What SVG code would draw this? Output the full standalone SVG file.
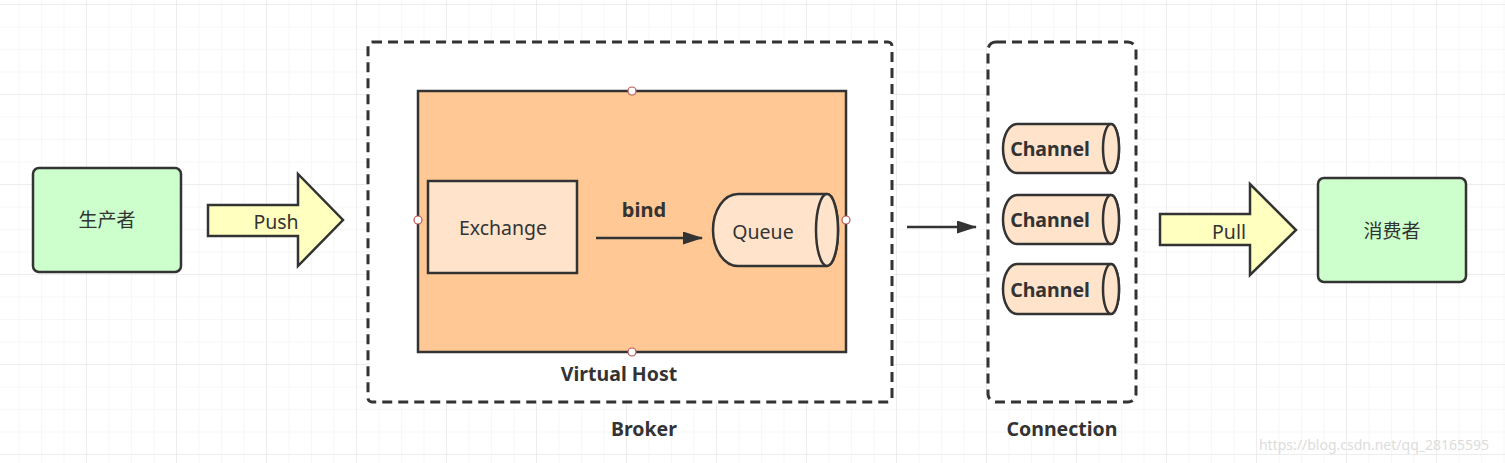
<svg xmlns="http://www.w3.org/2000/svg" width="1505" height="463" viewBox="0 0 1505 463">
<defs>
<pattern id="minor" x="-4" y="4" width="22.5" height="22.5" patternUnits="userSpaceOnUse">
<path d="M0,0 H22.5 M0,0 V22.5" fill="none" stroke="#efefef" stroke-width="1"/>
</pattern>
<pattern id="major" x="-4" y="4" width="90" height="90" patternUnits="userSpaceOnUse">
<path d="M0,0 H90 M0,0 V90" fill="none" stroke="#e4e4e4" stroke-width="1"/>
</pattern>
<marker id="arr" viewBox="0 0 20 13" refX="19" refY="6.5" markerWidth="20" markerHeight="13" orient="auto" markerUnits="userSpaceOnUse">
<path d="M0,0 L20,6.5 L0,13 z" fill="#333"/>
</marker>
</defs>
<style>
.t{font-family:"Noto Sans","Noto Sans CJK SC",sans-serif;fill:#333;text-anchor:middle;dominant-baseline:central}
.b{font-weight:bold}
.sh{stroke:#333;stroke-width:2.5}
.dash{fill:#fff;stroke:#333;stroke-width:3;stroke-dasharray:10 6}
.pt{fill:#fff;stroke:#b85450;stroke-width:1.2}
.big{fill:#ffffc0}
.green{fill:#ccffcc}
.light{fill:#ffe4cb}
</style>
<rect width="1505" height="463" fill="#fff"/>
<rect width="1505" height="463" fill="url(#minor)"/>
<rect width="1505" height="463" fill="url(#major)"/>

<g id="producer">
<rect x="33" y="168" width="148" height="104" rx="6" class="green sh"/>
<text x="107" y="220" class="t" font-size="19">生产者</text>
</g>

<g id="push">
<path d="M208,205 H298 V174 L343,220 L298,266 V236 H208 Z" class="big sh" stroke-linejoin="miter"/>
<text x="276" y="221" class="t" font-size="19.5">Push</text>
</g>

<g id="broker">
<rect x="368" y="42" width="524" height="360" rx="4" class="dash"/>
<text x="644" y="428" class="t b" font-size="19.5">Broker</text>
</g>

<g id="virtualhost">
<rect x="418" y="91" width="428" height="261" fill="#ffc895" class="sh"/>
<text x="619" y="373" class="t b" font-size="19.5">Virtual Host</text>
<circle cx="632" cy="91" r="4" class="pt"/>
<circle cx="418" cy="220" r="4" class="pt"/>
<circle cx="846" cy="220" r="4" class="pt"/>
<circle cx="632" cy="352" r="4" class="pt"/>
</g>

<g id="exchange">
<rect x="428" y="181" width="149" height="92" class="light sh"/>
<text x="503" y="227" class="t" font-size="19.5">Exchange</text>
</g>

<g id="queue">
<path d="M738,194 H827 A11,36 0 0 1 827,266 H738 A25,36 0 0 1 738,194 Z" class="light sh"/>
<ellipse cx="827" cy="230" rx="11" ry="36" class="light sh"/>
<text x="763" y="231" class="t" font-size="19.5">Queue</text>
</g>

<g id="connection">
<rect x="988" y="42" width="148" height="360" rx="8" class="dash"/>
<text x="1062" y="428" class="t b" font-size="19.5">Connection</text>
</g>

<g id="channel1">
<path d="M1017,124 H1111 A8,24.5 0 0 1 1111,173 H1017 A14,24.5 0 0 1 1017,124 Z" class="light sh"/>
<ellipse cx="1111" cy="148.5" rx="8" ry="24.5" class="light sh"/>
<text x="1050" y="148" class="t b" font-size="19.5">Channel</text>
</g>
<g id="channel2">
<path d="M1017,195 H1111 A8,24.5 0 0 1 1111,244 H1017 A14,24.5 0 0 1 1017,195 Z" class="light sh"/>
<ellipse cx="1111" cy="219.5" rx="8" ry="24.5" class="light sh"/>
<text x="1050" y="219" class="t b" font-size="19.5">Channel</text>
</g>
<g id="channel3">
<path d="M1017,264 H1111 A8,25 0 0 1 1111,314 H1017 A14,25 0 0 1 1017,264 Z" class="light sh"/>
<ellipse cx="1111" cy="289" rx="8" ry="25" class="light sh"/>
<text x="1050" y="289" class="t b" font-size="19.5">Channel</text>
</g>

<g id="pull">
<path d="M1160,214 H1250 V184 L1296,230 L1250,275 V245 H1160 Z" class="big sh"/>
<text x="1229" y="231" class="t" font-size="19.5">Pull</text>
</g>

<g id="consumer">
<rect x="1318" y="178" width="148" height="104" rx="6" class="green sh"/>
<text x="1392" y="231" class="t" font-size="19">消费者</text>
</g>

<g id="connectors">
<line x1="596" y1="238" x2="702" y2="238" stroke="#333" stroke-width="2.5" marker-end="url(#arr)"/>
<text x="644" y="209" class="t b" font-size="20">bind</text>
<line x1="907" y1="227" x2="976" y2="227" stroke="#333" stroke-width="2.5" marker-end="url(#arr)"/>
</g>

<text x="1374" y="444" class="t" font-size="14" style="fill:#dcdcdc">https://blog.csdn.net/qq_28165595</text>
</svg>
